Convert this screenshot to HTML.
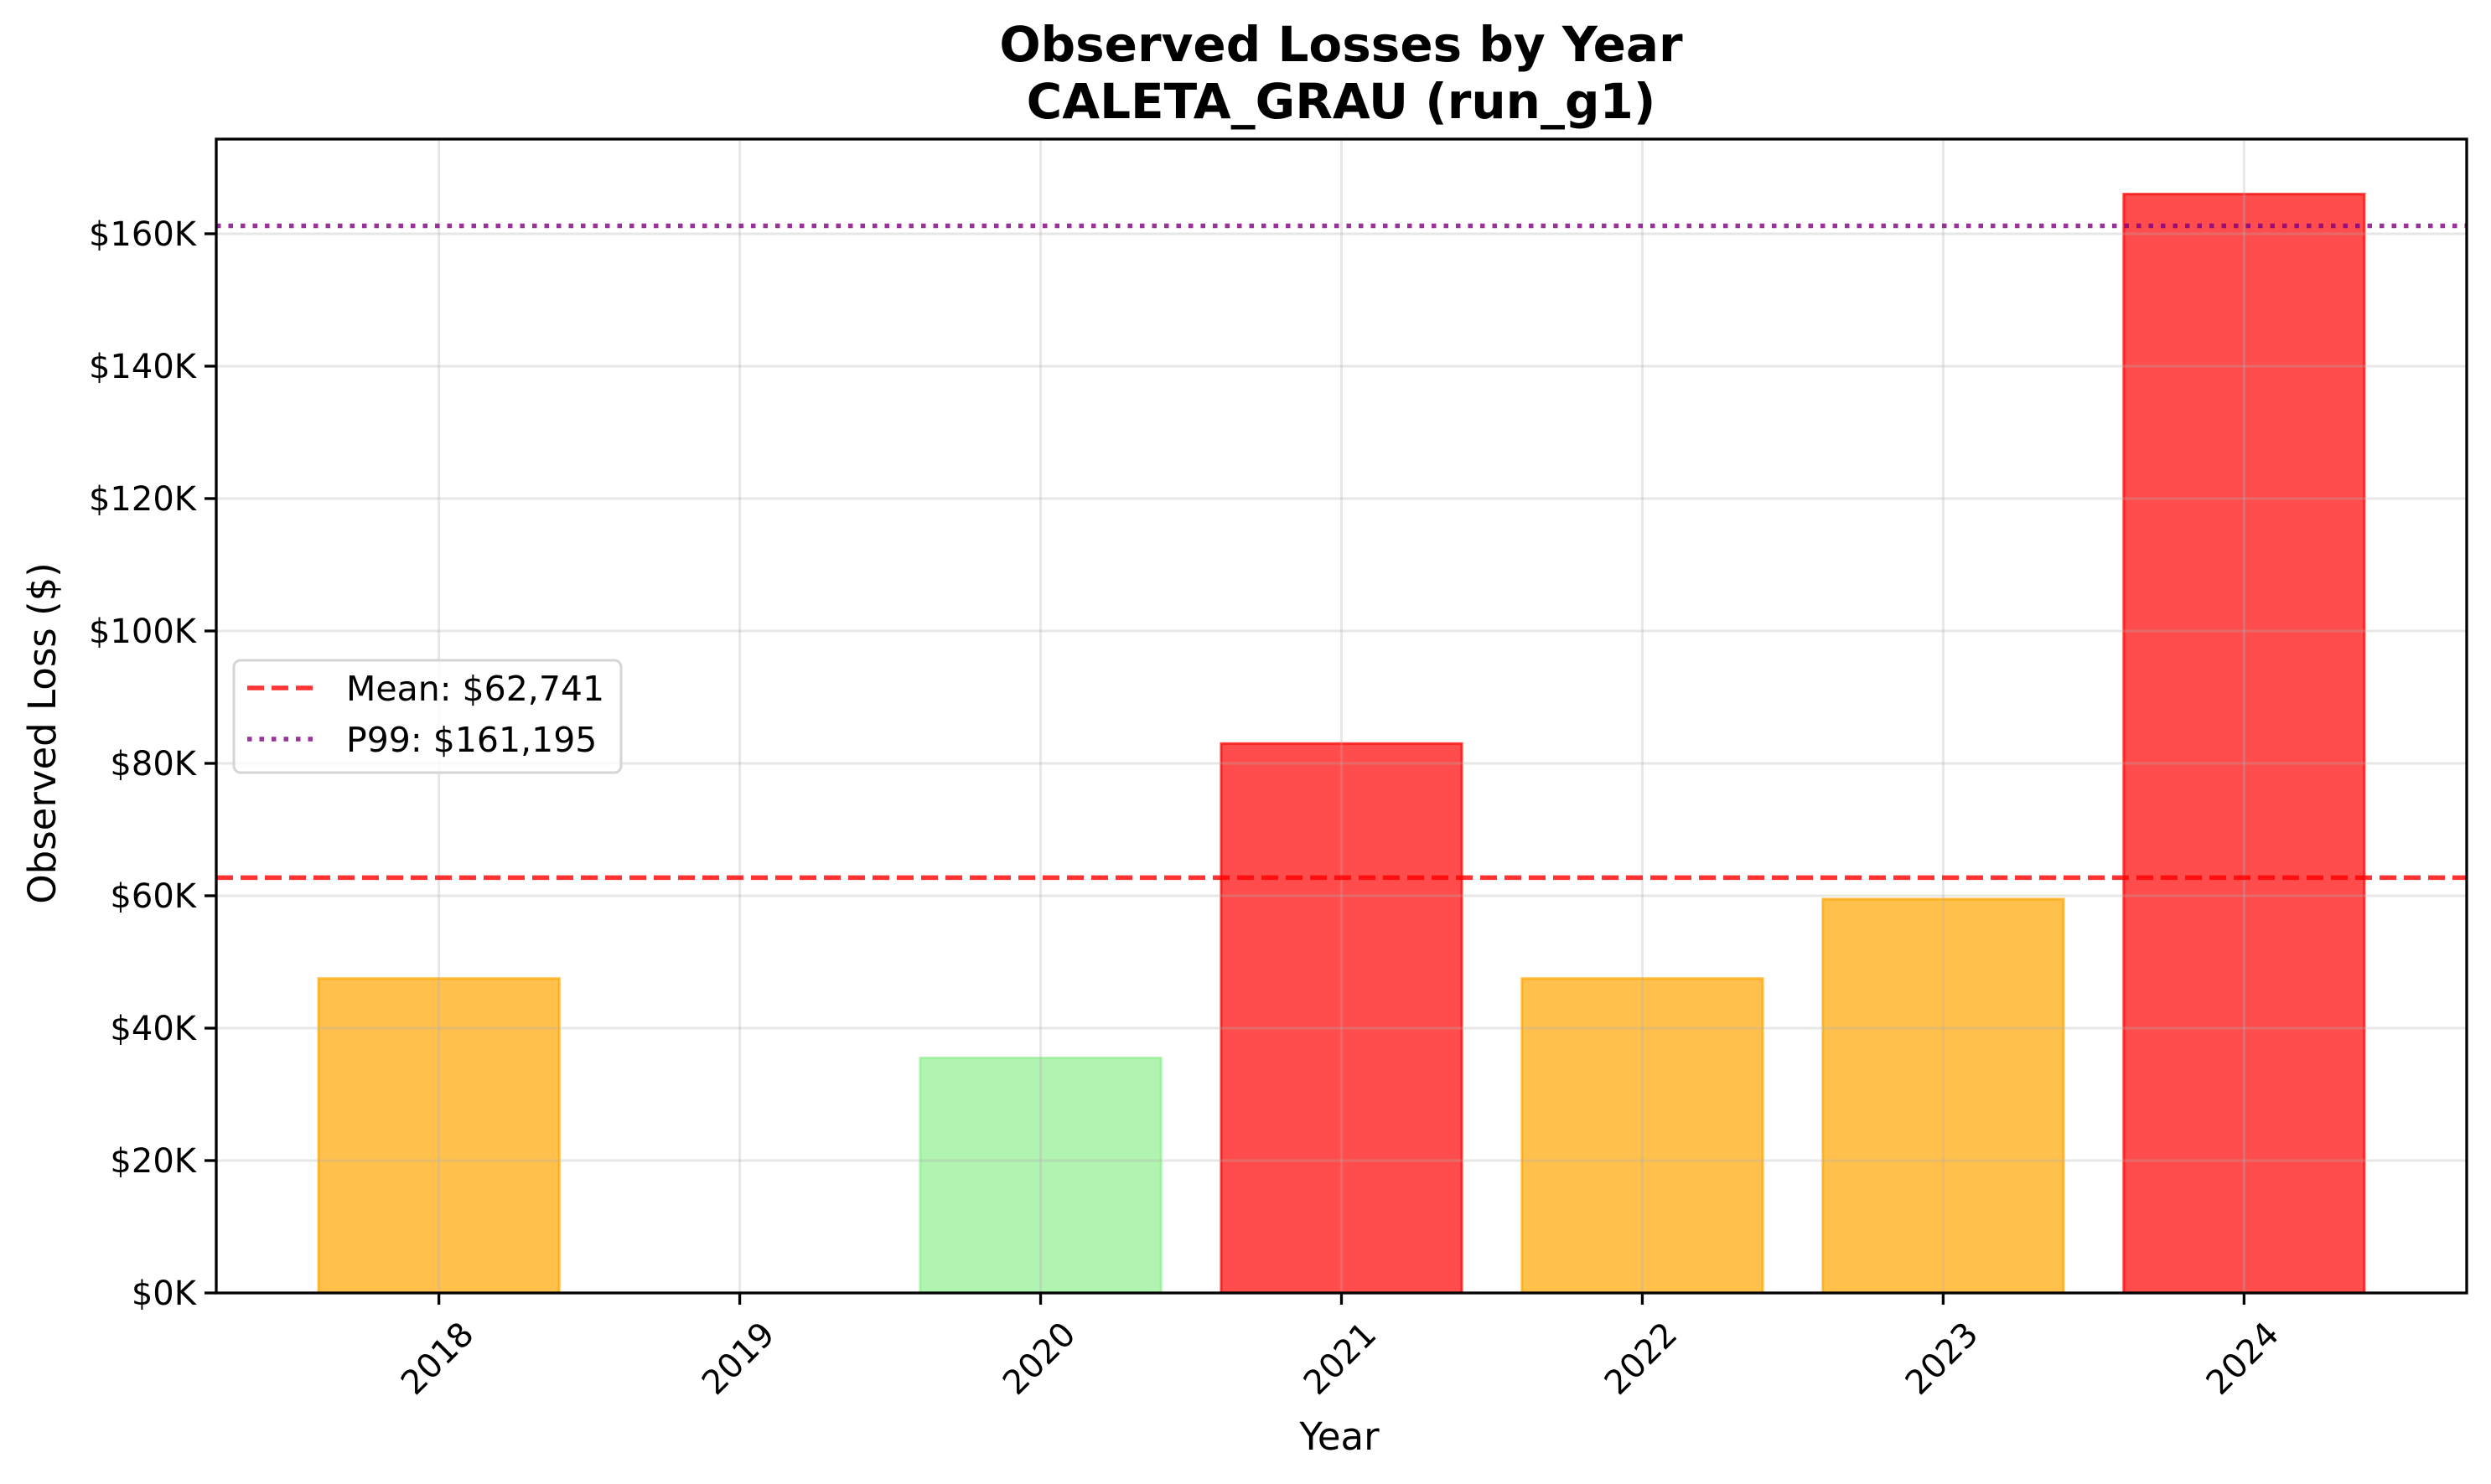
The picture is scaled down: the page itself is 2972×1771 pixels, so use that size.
<!DOCTYPE html>
<html><head><meta charset="utf-8"><style>
html,body{margin:0;padding:0;background:#fff;}
svg{display:block;font-family:"DejaVu Sans","Liberation Sans",sans-serif;}
</style></head><body>
<svg id="chart" width="2972" height="1771" viewBox="0 0 2972 1771" xmlns="http://www.w3.org/2000/svg">
<rect width="2972" height="1771" fill="#fff"/>
<text x="1600" y="73" font-size="58" font-weight="bold" text-anchor="middle">Observed Losses by Year</text>
<text x="1600" y="141" font-size="58" font-weight="bold" text-anchor="middle">CALETA_GRAU (run_g1)</text>
<g id="grid"></g>
<g id="bars"></g>
<g id="gridover"></g>
<g id="reflines"></g>
<rect x="258" y="166" width="2685" height="1377" fill="none" stroke="#000" stroke-width="3.3"/>
<g id="yaxis"></g>
<g id="xaxis"></g>
<text transform="translate(66,875) rotate(-90)" font-size="45" text-anchor="middle">Observed Loss ($)</text>
<text x="1598" y="1730" font-size="45" text-anchor="middle">Year</text>
<g>
<rect x="279" y="788" width="462" height="134" rx="8" fill="#fff" fill-opacity="0.8" stroke="#d5d5d5" stroke-width="3"/>
<line x1="295" y1="821" x2="378" y2="821" stroke="#ff0000" stroke-opacity="0.8" stroke-width="5.5" stroke-dasharray="20 9"/>
<text x="413" y="836" font-size="41">Mean: $62,741</text>
<line x1="295" y1="882" x2="378" y2="882" stroke="#800080" stroke-opacity="0.8" stroke-width="5.5" stroke-dasharray="5.5 9"/>
<text x="413" y="897" font-size="41">P99: $161,195</text>
</g>
</svg>
<script>
const categories = ["2018","2019","2020","2021","2022","2023","2024"];
const lossValues = [47500, 0, 35500, 83000, 47500, 59500, 166000];
const barColors = ["orange","orange","green","red","orange","orange","red"];
const yTickValues = [0,20000,40000,60000,80000,100000,120000,140000,160000];
const yTickLabels = ["$0K","$20K","$40K","$60K","$80K","$100K","$120K","$140K","$160K"];
const meanValue = 62741;
const p99Value = 161195;

const NS="http://www.w3.org/2000/svg";
const L=258,R=2943,T=166,B=1543,yMax=174300,xMin=-0.74,xMax=6.74;
function xs(i){return L+(i-xMin)/(xMax-xMin)*(R-L);}
function ys(v){return B-v/yMax*(B-T);}
function mk(tag,attrs,parent){const e=document.createElementNS(NS,tag);for(const k in attrs)e.setAttribute(k,attrs[k]);parent.appendChild(e);return e;}
const pal={orange:["#ffa500"],red:["#ff0000"],green:["#90ee90"]};
const grid=document.getElementById('grid'),bars=document.getElementById('bars'),go=document.getElementById('gridover');
yTickValues.forEach((v,i)=>{
  const g=mk('line',{x1:L,x2:R,y1:ys(v),y2:ys(v),stroke:'#b0b0b0','stroke-opacity':0.3,'stroke-width':3},go);
  
  
  const t=mk('line',{x1:L-14,x2:L,y1:ys(v),y2:ys(v),stroke:'#000','stroke-width':3.3},document.getElementById('yaxis'));
  
  
  const tx=mk('text',{x:L-24,y:ys(v)+14,'font-size':40,'text-anchor':'end'},document.getElementById('yaxis'));
  tx.textContent=yTickLabels[i];
  
  
});
categories.forEach((c,i)=>{
  const x=xs(i),w=(xs(0.4)-xs(-0.4));
  const col=pal[barColors[i]][0];
  if(lossValues[i]>0){
    const b=mk('rect',{x:x-w/2,y:ys(lossValues[i]),width:w,height:B-ys(lossValues[i]),fill:col,'fill-opacity':0.7,stroke:col,'stroke-opacity':0.7,'stroke-width':3},bars);
    
    
  }
  const g=mk('line',{x1:x,x2:x,y1:T,y2:B,stroke:'#b0b0b0','stroke-opacity':0.3,'stroke-width':3},go);
  
  
  const t=mk('line',{x1:x,x2:x,y1:B,y2:B+14,stroke:'#000','stroke-width':3.3},document.getElementById('xaxis'));
  
  
  const tx=mk('text',{transform:`translate(${x},${B+80}) rotate(-45)`,'font-size':40,'text-anchor':'middle','dominant-baseline':'middle'},document.getElementById('xaxis'));
  tx.textContent=c;
  
  
});
const rl=document.getElementById('reflines');
const m=mk('line',{x1:L,x2:R,y1:ys(meanValue),y2:ys(meanValue),stroke:'#ff0000','stroke-opacity':0.8,'stroke-width':5.5,'stroke-dasharray':'20 9'},rl);


const p=mk('line',{x1:L,x2:R,y1:ys(p99Value),y2:ys(p99Value),stroke:'#800080','stroke-opacity':0.8,'stroke-width':5.5,'stroke-dasharray':'5.5 9'},rl);


</script>
</body></html>
